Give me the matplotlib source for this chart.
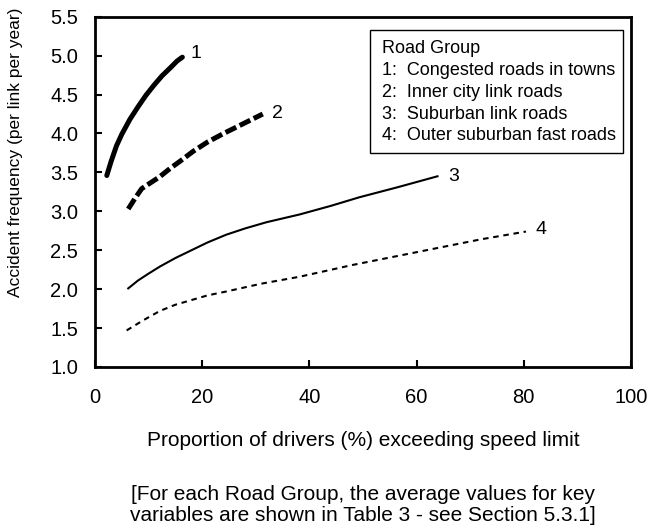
import matplotlib
matplotlib.use("Agg")
import matplotlib.pyplot as plt
from matplotlib.patches import Rectangle

plt.rcParams['font.family'] = ['Liberation Sans', 'DejaVu Sans']
plt.rcParams['font.size'] = 14
plt.rcParams['lines.scale_dashes'] = False

# curves: x = % of drivers over the limit, y = accidents per link per year
g1_x = [2.2, 3.0, 4.0, 5.0, 6.5, 8.0, 9.5, 11.0, 12.5, 14.0, 15.3, 16.3]
g1_y = [3.46, 3.64, 3.84, 3.99, 4.18, 4.34, 4.49, 4.62, 4.74, 4.84, 4.93, 4.98]

g2_x = [6.2, 7.5, 8.7, 10.0, 12.0, 14.0, 16.0, 18.3, 21.0, 24.0, 27.5, 31.3]
g2_y = [3.03, 3.17, 3.29, 3.35, 3.44, 3.55, 3.65, 3.77, 3.89, 4.00, 4.12, 4.25]

g3_x = [6.2, 8.0, 10.0, 12.1, 15.0, 18.0, 21.0, 24.5, 28.0, 32.0, 38.2, 44.0, 49.3, 56.5, 63.9]
g3_y = [2.01, 2.11, 2.20, 2.29, 2.40, 2.50, 2.60, 2.70, 2.78, 2.86, 2.96, 3.07, 3.18, 3.31, 3.45]

g4_x = [5.9, 9.0, 12.1, 15.0, 18.0, 21.0, 24.5, 31.0, 38.2, 48.0, 56.0, 64.0, 72.0, 80.4]
g4_y = [1.47, 1.60, 1.72, 1.80, 1.86, 1.92, 1.97, 2.07, 2.16, 2.31, 2.42, 2.53, 2.64, 2.74]

label_names = ['1', '2', '3', '4']
label_x = [18.9, 34.1, 66.9, 83.2]
label_y = [5.03, 4.26, 3.45, 2.76]

legend_lines = ['Road Group',
                '1:  Congested roads in towns',
                '2:  Inner city link roads',
                '3:  Suburban link roads',
                '4:  Outer suburban fast roads']

x_ticks = [0, 20, 40, 60, 80, 100]
y_ticks = [1.0, 1.5, 2.0, 2.5, 3.0, 3.5, 4.0, 4.5, 5.0, 5.5]

fig = plt.figure(figsize=(6.49, 5.28), dpi=100)
ax = fig.add_axes([95 / 649, 1 - 367 / 528, (631 - 95) / 649, (367 - 16.7) / 528])

ax.plot(g1_x, g1_y, color='black', lw=3.6, solid_capstyle='round')
ax.plot(g2_x, g2_y, color='black', lw=3.6, dashes=(8.5, 2.8), dash_capstyle='butt')
ax.plot(g3_x, g3_y, color='black', lw=1.5)
ax.plot(g4_x, g4_y, color='black', lw=1.5, dashes=(4.0, 3.4), dash_capstyle='butt')

for name, lx, ly in zip(label_names, label_x, label_y):
    ax.text(lx, ly, name, fontsize=14, ha='center', va='center')

ax.set_xlim(0, 100)
ax.set_ylim(1.0, 5.5)
ax.set_xticks(x_ticks)
ax.set_yticks(y_ticks)
ax.set_xticklabels([str(t) for t in x_ticks])
ax.set_yticklabels(['%.1f' % t for t in y_ticks])
ax.tick_params(axis='both', direction='in', length=5, width=1.5, labelsize=14.5)
ax.tick_params(axis='x', pad=15)
ax.tick_params(axis='y', pad=12)
for sp in ax.spines.values():
    sp.set_linewidth(2)

# legend box: frame plus one text per line
ax.add_patch(Rectangle((0.513, 0.611), 0.472, 0.351, transform=ax.transAxes,
                       fc='white', ec='black', lw=1, zorder=3))
line_y = [0.91, 0.847, 0.785, 0.722, 0.66]
for txt, ty in zip(legend_lines, line_y):
    ax.text(0.535, ty, txt, transform=ax.transAxes, fontsize=13,
            ha='left', va='center', zorder=4)

fig.text(16 / 649, 1 - 152 / 528, 'Accident frequency (per link per year)',
         rotation=90, ha='center', va='center', fontsize=12.5)
fig.text(363 / 649, 1 - 441 / 528, 'Proportion of drivers (%) exceeding speed limit',
         ha='center', va='center', fontsize=15)
fig.text(363 / 649, 1 - 505 / 528,
         '[For each Road Group, the average values for key\nvariables are shown in Table 3 - see Section 5.3.1]',
         ha='center', va='center', fontsize=15, linespacing=1.08)

fig.savefig('out.png', dpi=100)
